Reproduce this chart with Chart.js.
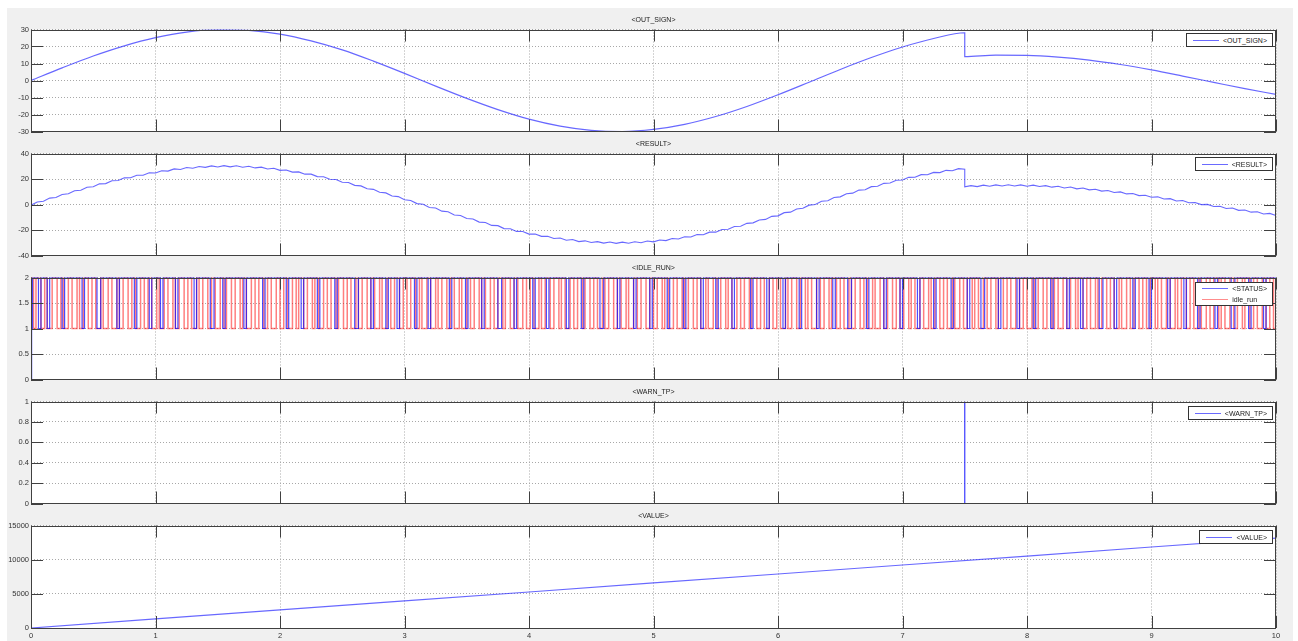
<!DOCTYPE html>
<html>
<head>
<meta charset="utf-8">
<script src="https://cdn.jsdelivr.net/npm/chart.js@4.4.1/dist/chart.umd.min.js"></script>
<style>
  html, body { margin: 0; padding: 0; background: #fff; }
  body { width: 1298px; height: 641px; position: relative; overflow: hidden; font-family: "Liberation Sans", Arial, sans-serif; }
  #fig { position: absolute; left: 7px; top: 8px; width: 1286px; height: 633px; background: #f0f0f0; }
  canvas { position: absolute; left: 0; }
  .ttl { position: absolute; left: 31px; width: 1245px; text-align: center; font-size: 7px; line-height: 8px; color: #222; }
  .lgd { position: absolute; right: 25px; background: #fff; border: 1px solid #333; padding: 0 5px 0 6px; font-size: 7px; color: #222; }
  .lgd .row { display: flex; align-items: center; height: 12px; }
  .lgd .ln { display: block; flex: none; width: 26px; height: 1px; margin-right: 4px; }
  .lgd .blue { background: #6a6aff; }
  .lgd .red { background: #ff8c8c; }
</style>
</head>
<body>
<div id="fig"></div>

<canvas id="c1" width="1298" height="115" style="top:23px"></canvas>
<canvas id="c2" width="1298" height="115" style="top:147px"></canvas>
<canvas id="c3" width="1298" height="115" style="top:271px"></canvas>
<canvas id="c4" width="1298" height="115" style="top:395px"></canvas>
<canvas id="c5" width="1298" height="125" style="top:519px"></canvas>

<div class="ttl" style="top:16px">&lt;OUT_SIGN&gt;</div>
<div class="ttl" style="top:140px">&lt;RESULT&gt;</div>
<div class="ttl" style="top:264px">&lt;IDLE_RUN&gt;</div>
<div class="ttl" style="top:388px">&lt;WARN_TP&gt;</div>
<div class="ttl" style="top:512px">&lt;VALUE&gt;</div>

<div class="lgd" style="top:33px"><div class="row"><span class="ln blue"></span>&lt;OUT_SIGN&gt;</div></div>
<div class="lgd" style="top:157px"><div class="row"><span class="ln blue"></span>&lt;RESULT&gt;</div></div>
<div class="lgd" style="top:282px"><div class="row" style="height:11px"><span class="ln blue"></span>&lt;STATUS&gt;</div><div class="row" style="height:11px"><span class="ln red"></span>idle_run</div></div>
<div class="lgd" style="top:406px"><div class="row"><span class="ln blue"></span>&lt;WARN_TP&gt;</div></div>
<div class="lgd" style="top:530px"><div class="row"><span class="ln blue"></span>&lt;VALUE&gt;</div></div>

<script>
// axis ticks
const xTicks = [0, 1, 2, 3, 4, 5, 6, 7, 8, 9, 10];
const outSignTicks = [-30, -20, -10, 0, 10, 20, 30];
const resultTicks = [-40, -20, 0, 20, 40];
const idleTicks = [0, 0.5, 1, 1.5, 2];
const warnTicks = [0, 0.2, 0.4, 0.6, 0.8, 1];
const valueTicks = [0, 5000, 10000, 15000];

// <OUT_SIGN>
const outSignTime = [0, 0.25, 0.5, 0.75, 1, 1.25, 1.5, 1.75, 2, 2.25, 2.5, 2.75, 3, 3.25, 3.5, 3.75, 4, 4.25, 4.5, 4.75,
  5, 5.25, 5.5, 5.75, 6, 6.25, 6.5, 6.75, 7, 7.25, 7.5, 7.5, 7.75, 8, 8.25, 8.5, 8.75, 9, 9.25, 9.5, 9.75, 10];
const outSign = [0, 7.4, 14.4, 20.4, 25.2, 28.5, 29.9, 29.5, 27.3, 23.3, 18.0, 11.4, 4.2, -3.3, -10.5, -17.1, -22.7, -26.8, -29.3, -30.0,
  -28.8, -25.8, -21.2, -15.3, -8.4, -1.0, 6.5, 13.5, 19.7, 24.7, 28.1, 14.1, 14.9, 14.8, 13.8, 12.0, 9.4, 6.2, 2.6, -1.1, -4.8, -8.2];

// <RESULT>
const resultTime = [
  0, 0.05, 0.1, 0.15, 0.2, 0.25, 0.3, 0.35, 0.4, 0.45, 0.5, 0.55, 0.6, 0.65, 0.7, 0.75, 0.8, 0.85, 0.9, 0.95,
  1, 1.05, 1.1, 1.15, 1.2, 1.25, 1.3, 1.35, 1.4, 1.45, 1.5, 1.55, 1.6, 1.65, 1.7, 1.75, 1.8, 1.85, 1.9, 1.95,
  2, 2.05, 2.1, 2.15, 2.2, 2.25, 2.3, 2.35, 2.4, 2.45, 2.5, 2.55, 2.6, 2.65, 2.7, 2.75, 2.8, 2.85, 2.9, 2.95,
  3, 3.05, 3.1, 3.15, 3.2, 3.25, 3.3, 3.35, 3.4, 3.45, 3.5, 3.55, 3.6, 3.65, 3.7, 3.75, 3.8, 3.85, 3.9, 3.95,
  4, 4.05, 4.1, 4.15, 4.2, 4.25, 4.3, 4.35, 4.4, 4.45, 4.5, 4.55, 4.6, 4.65, 4.7, 4.75, 4.8, 4.85, 4.9, 4.95,
  5, 5.05, 5.1, 5.15, 5.2, 5.25, 5.3, 5.35, 5.4, 5.45, 5.5, 5.55, 5.6, 5.65, 5.7, 5.75, 5.8, 5.85, 5.9, 5.95,
  6, 6.05, 6.1, 6.15, 6.2, 6.25, 6.3, 6.35, 6.4, 6.45, 6.5, 6.55, 6.6, 6.65, 6.7, 6.75, 6.8, 6.85, 6.9, 6.95,
  7, 7.05, 7.1, 7.15, 7.2, 7.25, 7.3, 7.35, 7.4, 7.45, 7.5, 7.5, 7.55, 7.6, 7.65, 7.7, 7.75, 7.8, 7.85, 7.9, 7.95,
  8, 8.05, 8.1, 8.15, 8.2, 8.25, 8.3, 8.35, 8.4, 8.45, 8.5, 8.55, 8.6, 8.65, 8.7, 8.75, 8.8, 8.85, 8.9, 8.95,
  9, 9.05, 9.1, 9.15, 9.2, 9.25, 9.3, 9.35, 9.4, 9.45, 9.5, 9.55, 9.6, 9.65, 9.7, 9.75, 9.8, 9.85, 9.9, 9.95,
  10];
const result = [
  -0.5, 2.0, 2.5, 5.0, 5.5, 7.9, 8.4, 10.8, 11.2, 13.5, 13.9, 16.2, 16.4, 18.6, 18.8, 20.9, 21.0, 23.0, 23.0, 24.9,
  24.7, 26.5, 26.2, 27.9, 27.5, 29.0, 28.4, 29.8, 29.1, 30.3, 29.4, 30.5, 29.5, 30.4, 29.2, 30.0, 28.7, 29.3, 27.9, 28.4,
  26.8, 27.1, 25.4, 25.6, 23.8, 23.8, 21.9, 21.8, 19.8, 19.6, 17.5, 17.2, 15.0, 14.6, 12.3, 11.9, 9.6, 9.1, 6.7, 6.2,
  3.7, 3.2, 0.7, 0.2, -2.3, -2.8, -5.2, -5.7, -8.2, -8.6, -11.0, -11.4, -13.8, -14.1, -16.4, -16.6, -18.9, -19.0, -21.1, -21.2,
  -23.2, -23.1, -25.0, -24.9, -26.7, -26.3, -28.0, -27.5, -29.1, -28.5, -29.8, -29.1, -30.3, -29.4, -30.5, -29.5, -30.4, -29.2, -30.0, -28.6,
  -29.3, -27.8, -28.3, -26.7, -27.0, -25.3, -25.5, -23.6, -23.7, -21.7, -21.7, -19.6, -19.4, -17.2, -17.0, -14.8, -14.4, -12.1, -11.7, -9.3,
  -8.9, -6.4, -6.0, -3.5, -3.0, -0.5, 0.0, 2.5, 3.0, 5.5, 6.0, 8.4, 8.9, 11.3, 11.6, 14.0, 14.3, 16.6, 16.9, 19.0,
  19.2, 21.3, 21.4, 23.4, 23.3, 25.2, 25.0, 26.8, 26.5, 28.1, 27.6, 13.9, 14.8, 14.0, 15.2, 14.3, 15.4, 14.5, 15.5, 14.5, 15.4,
  14.3, 15.2, 14.1, 14.8, 13.6, 14.3, 13.0, 13.7, 12.3, 12.9, 11.5, 12.0, 10.5, 11.0, 9.4, 9.9, 8.3, 8.6, 7.0, 7.3,
  5.7, 6.0, 4.3, 4.6, 2.8, 3.1, 1.4, 1.6, -0.1, 0.1, -1.6, -1.4, -3.1, -2.8, -4.6, -4.3, -6.0, -5.7, -7.4, -7.0,
  -8.7];

// <IDLE_RUN>: switching times of the two level signals
// STATUS: 0 -> 1 -> 2 at the start, then short dips to 1
const statusEdges = [0.005, 0.012,
  0.06, 0.08, 0.13, 0.15, 0.25, 0.27, 0.41, 0.43, 0.53, 0.56, 0.69, 0.71, 0.83, 0.85, 0.95, 0.97,
  1.04, 1.06, 1.16, 1.18, 1.31, 1.33, 1.44, 1.47, 1.54, 1.56, 1.71, 1.73, 1.86, 1.88,
  2.05, 2.07, 2.17, 2.19, 2.30, 2.32, 2.44, 2.46, 2.60, 2.63, 2.73, 2.75, 2.85, 2.87, 2.94, 2.96,
  3.08, 3.10, 3.19, 3.21, 3.36, 3.38, 3.49, 3.51, 3.62, 3.64, 3.75, 3.78, 3.88, 3.90,
  4.03, 4.05, 4.14, 4.16, 4.30, 4.32, 4.42, 4.44, 4.57, 4.60, 4.71, 4.73, 4.84, 4.86, 4.97, 4.99,
  5.11, 5.13, 5.24, 5.26, 5.38, 5.40, 5.50, 5.52, 5.63, 5.65, 5.78, 5.80, 5.91, 5.93,
  6.04, 6.06, 6.17, 6.19, 6.31, 6.33, 6.44, 6.46, 6.56, 6.59, 6.71, 6.73, 6.85, 6.87, 6.98, 7.00,
  7.12, 7.14, 7.25, 7.27, 7.39, 7.41, 7.52, 7.54, 7.63, 7.66, 7.77, 7.79, 7.92, 7.94,
  8.05, 8.07, 8.19, 8.21, 8.32, 8.34, 8.43, 8.45, 8.58, 8.61, 8.70, 8.72, 8.85, 8.87, 8.98, 9.00,
  9.13, 9.15, 9.26, 9.28, 9.37, 9.39, 9.51, 9.53, 9.64, 9.67, 9.78, 9.80, 9.90, 9.92];
const idleRunEdges = [
  0.02, 0.04, 0.08, 0.11, 0.13, 0.17, 0.21, 0.24, 0.26, 0.30, 0.33, 0.37, 0.39, 0.42, 0.46, 0.49, 0.52, 0.56, 0.58, 0.62, 0.65, 0.69, 0.71, 0.74, 0.78, 0.81, 0.84, 0.88, 0.91, 0.94, 0.97,
  1.01, 1.03, 1.07, 1.10, 1.14, 1.16, 1.19, 1.23, 1.26, 1.29, 1.33, 1.35, 1.38, 1.42, 1.45, 1.48, 1.52, 1.55, 1.57, 1.61, 1.64, 1.68, 1.70, 1.73, 1.77, 1.80, 1.83, 1.87, 1.90, 1.93, 1.97,
  2.00, 2.03, 2.06, 2.10, 2.13, 2.15, 2.19, 2.22, 2.26, 2.28, 2.31, 2.35, 2.38, 2.41, 2.45, 2.47, 2.51, 2.54, 2.57, 2.61, 2.63, 2.66, 2.70, 2.73, 2.76, 2.80, 2.82, 2.86, 2.89, 2.92, 2.96, 2.99,
  3.02, 3.05, 3.09, 3.12, 3.14, 3.18, 3.21, 3.25, 3.27, 3.30, 3.34, 3.37, 3.40, 3.44, 3.46, 3.50, 3.53, 3.56, 3.60, 3.62, 3.65, 3.69, 3.72, 3.75, 3.79, 3.81, 3.85, 3.88, 3.91, 3.95, 3.98,
  4.01, 4.04, 4.08, 4.10, 4.13, 4.17, 4.20, 4.24, 4.26, 4.29, 4.33, 4.36, 4.39, 4.43, 4.45, 4.49, 4.52, 4.55, 4.59, 4.61, 4.64, 4.68, 4.71, 4.74, 4.78, 4.80, 4.84, 4.87, 4.90, 4.94, 4.97,
  5.00, 5.03, 5.07, 5.09, 5.12, 5.16, 5.19, 5.23, 5.25, 5.28, 5.32, 5.35, 5.38, 5.42, 5.44, 5.48, 5.51, 5.54, 5.58, 5.60, 5.63, 5.67, 5.70, 5.73, 5.77, 5.79, 5.83, 5.86, 5.89, 5.93, 5.96, 5.99,
  6.02, 6.06, 6.08, 6.11, 6.15, 6.18, 6.22, 6.24, 6.27, 6.31, 6.34, 6.37, 6.41, 6.43, 6.47, 6.50, 6.53, 6.57, 6.59, 6.62, 6.66, 6.69, 6.72, 6.76, 6.78, 6.82, 6.85, 6.88, 6.92, 6.95, 6.98,
  7.01, 7.05, 7.07, 7.10, 7.14, 7.17, 7.21, 7.23, 7.26, 7.30, 7.33, 7.36, 7.40, 7.42, 7.46, 7.49, 7.52, 7.56, 7.58, 7.61, 7.65, 7.68, 7.71, 7.75, 7.77, 7.81, 7.84, 7.87, 7.91, 7.94, 7.97,
  8.00, 8.04, 8.06, 8.09, 8.13, 8.16, 8.20, 8.22, 8.25, 8.29, 8.32, 8.35, 8.39, 8.41, 8.45, 8.48, 8.51, 8.55, 8.57, 8.60, 8.64, 8.67, 8.70, 8.74, 8.76, 8.80, 8.83, 8.86, 8.90, 8.93, 8.96, 8.99,
  9.03, 9.05, 9.08, 9.12, 9.15, 9.19, 9.21, 9.24, 9.28, 9.31, 9.34, 9.38, 9.40, 9.44, 9.47, 9.50, 9.54, 9.56, 9.59, 9.63, 9.66, 9.69, 9.73, 9.75, 9.79, 9.82, 9.85, 9.89, 9.92, 9.95, 9.98];

// <WARN_TP>
const warnTime = [0, 7.5, 7.5, 7.5, 10];
const warnValue = [0, 0, 1, 0, 0];

// <VALUE>
const valueTime = [0, 1, 2, 3, 4, 5, 6, 7, 8, 9, 10];
const value = [0, 1330, 2640, 3960, 5270, 6590, 7900, 9220, 10530, 11850, 13160];

const FONT = '"Liberation Sans", Arial, sans-serif';
const BLUE = 'rgba(40,40,255,0.7)';

function toPoints(xs, ys) {
  return xs.map((x, i) => ({ x: x, y: ys[i] }));
}

// level signal from switching times: leaves the start level to `low`, then toggles low/high
function levelPoints(start, edges, low, high) {
  let y = start;
  const pts = [{ x: 0, y: y }];
  edges.forEach(e => {
    y = (y === low) ? high : low;
    pts.push({ x: e, y: y });
  });
  pts.push({ x: 10, y: y });
  return pts;
}

// white plot box, frame and inward tick marks
const matlabAxes = {
  id: 'matlabAxes',
  beforeDraw(chart) {
    const { ctx, chartArea: a } = chart;
    ctx.save();
    ctx.fillStyle = '#fff';
    ctx.fillRect(a.left, a.top, a.width, a.height);
    ctx.restore();
  },
  afterDatasetsDraw(chart) {
    const { ctx, chartArea: a, scales } = chart;
    const len = 12;
    ctx.save();
    ctx.strokeStyle = '#404040';
    ctx.lineWidth = 1;
    ctx.beginPath();
    scales.x.ticks.forEach(t => {
      const px = Math.round(scales.x.getPixelForValue(t.value)) + 0.5;
      ctx.moveTo(px, a.top); ctx.lineTo(px, a.top + len);
      ctx.moveTo(px, a.bottom); ctx.lineTo(px, a.bottom - len);
    });
    scales.y.ticks.forEach(t => {
      const py = Math.round(scales.y.getPixelForValue(t.value)) + 0.5;
      ctx.moveTo(a.left, py); ctx.lineTo(a.left + len, py);
      ctx.moveTo(a.right, py); ctx.lineTo(a.right - len, py);
    });
    ctx.stroke();
    ctx.strokeRect(Math.round(a.left) + 0.5, Math.round(a.top) + 0.5, Math.round(a.width) - 1, Math.round(a.height) - 1);
    ctx.restore();
  }
};

function makeChart(id, datasets, yTicks, bottom) {
  const tickFont = { size: 7.5, family: FONT };
  new Chart(document.getElementById(id), {
    type: 'line',
    data: { datasets: datasets },
    plugins: [matlabAxes],
    options: {
      responsive: false,
      animation: false,
      devicePixelRatio: 1,
      layout: { padding: { left: 0, right: 22, top: 6, bottom: bottom ? 0 : 6 } },
      plugins: { legend: { display: false }, tooltip: { enabled: false }, title: { display: false } },
      elements: { point: { radius: 0 }, line: { borderWidth: 1.2 } },
      scales: {
        x: {
          type: 'linear', min: 0, max: 10,
          afterBuildTicks: s => { s.ticks = xTicks.map(v => ({ value: v })); },
          afterFit: s => { s.height = bottom ? 16 : 0; },
          grid: { color: '#a8a8a8', drawTicks: false },
          border: { display: false, dash: [1, 2] },
          ticks: { display: bottom, padding: 3, color: '#333', font: tickFont, maxRotation: 0, autoSkip: false, callback: v => String(v) }
        },
        y: {
          type: 'linear', min: yTicks[0], max: yTicks[yTicks.length - 1],
          afterBuildTicks: s => { s.ticks = yTicks.map(v => ({ value: v })); },
          afterFit: s => { s.width = 31; },
          grid: { color: '#a8a8a8', drawTicks: false },
          border: { display: false, dash: [1, 2] },
          ticks: { padding: 2, color: '#333', font: tickFont, autoSkip: false, callback: v => String(v) }
        }
      }
    }
  });
}

makeChart('c1', [{
  label: '<OUT_SIGN>', data: toPoints(outSignTime, outSign),
  borderColor: BLUE, cubicInterpolationMode: 'monotone'
}], outSignTicks, false);

makeChart('c2', [{
  label: '<RESULT>', data: toPoints(resultTime, result),
  borderColor: BLUE, borderWidth: 1.1
}], resultTicks, false);

makeChart('c3', [{
  label: '<STATUS>', data: levelPoints(0, statusEdges, 1, 2),
  borderColor: 'rgba(0,0,255,0.7)', borderWidth: 1.2, stepped: true
}, {
  label: 'idle_run', data: levelPoints(2, idleRunEdges, 1, 2),
  borderColor: 'rgba(255,0,0,0.5)', borderWidth: 1.5, stepped: true
}], idleTicks, false);

makeChart('c4', [{
  label: '<WARN_TP>', data: toPoints(warnTime, warnValue),
  borderColor: BLUE, borderWidth: 1
}], warnTicks, false);

makeChart('c5', [{
  label: '<VALUE>', data: toPoints(valueTime, value),
  borderColor: BLUE
}], valueTicks, true);
</script>
</body>
</html>
